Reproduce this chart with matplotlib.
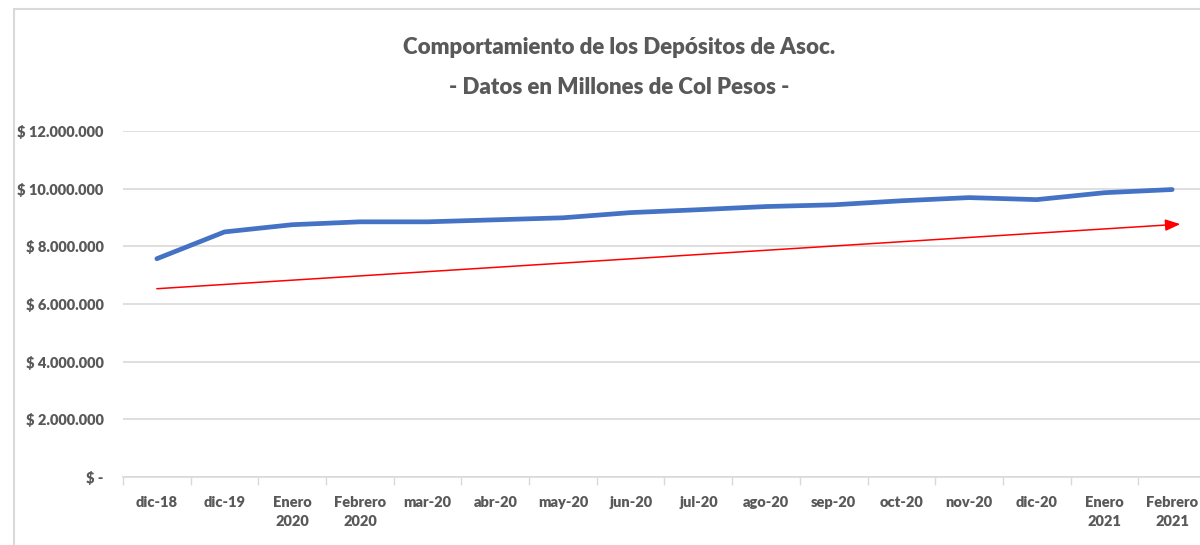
import matplotlib.pyplot as plt
from matplotlib.patches import Rectangle
from matplotlib.ticker import FuncFormatter

periodos = ['dic-18', 'dic-19', 'Enero\n2020', 'Febrero\n2020', 'mar-20', 'abr-20', 'may-20',
            'jun-20', 'jul-20', 'ago-20', 'sep-20', 'oct-20', 'nov-20', 'dic-20',
            'Enero\n2021', 'Febrero\n2021']
depositos = [7570000, 8500000, 8750000, 8850000, 8850000, 8920000, 8990000, 9170000,
             9270000, 9380000, 9440000, 9580000, 9690000, 9620000, 9860000, 9970000]
tendencia = [6530000, 8770000]  # inicio y fin de la flecha roja
y_ticks = [0, 2000000, 4000000, 6000000, 8000000, 10000000, 12000000]

gris = '#595959'
plt.rcParams['font.family'] = ['Lato', 'DejaVu Sans']

def pesos(v, pos):
    if v == 0:
        return '$ -'
    return '$ ' + f'{v:,.0f}'.replace(',', '.')

fig = plt.figure(figsize=(12, 5.45), dpi=100)
fig.patches.append(Rectangle((14 / 1200, -0.1), 1.2, (545 - 9) / 545 + 0.1, transform=fig.transFigure,
                             fill=False, edgecolor='#d9d9d9', linewidth=1.5))

ax = fig.add_axes([123 / 1200, 68 / 545, 1083 / 1200, 346 / 545])
x = list(range(len(periodos)))
ax.plot(x, depositos, color='#4472C4', linewidth=3.4, solid_capstyle='round', zorder=3)
ax.annotate('', xy=(len(periodos) - 1 + 0.12, tendencia[1]), xytext=(0, tendencia[0]),
            arrowprops=dict(arrowstyle='-|>,head_length=0.9,head_width=0.35', color='red',
                            lw=1.1, shrinkA=0, shrinkB=0))

ax.set_xlim(-0.5, len(periodos) - 0.5)
ax.set_ylim(0, 12000000)
ax.set_yticks(y_ticks)
ax.yaxis.set_major_formatter(FuncFormatter(pesos))
ax.set_xticks(x)
ax.set_xticklabels(periodos, linespacing=1.5)
ax.set_xticks([i - 0.5 for i in range(len(periodos) + 1)], minor=True)
ax.tick_params(axis='x', which='major', length=0, pad=14, labelsize=10.5, labelcolor=gris)
ax.tick_params(axis='x', which='minor', length=6, color='#d9d9d9', width=1)
ax.tick_params(axis='y', length=0, pad=14, labelsize=10.5, labelcolor=gris)
for lab in ax.get_xticklabels() + ax.get_yticklabels():
    lab.set_fontweight('heavy')

ax.grid(axis='y', color='#d9d9d9', linewidth=1.2)
ax.set_axisbelow(True)
for s in ['top', 'right', 'left']:
    ax.spines[s].set_visible(False)
ax.spines['bottom'].set_color('#d9d9d9')
ax.spines['bottom'].set_linewidth(1.2)

fig.text(0.516, 1 - 48 / 545, 'Comportamiento de los Depósitos de Asoc.',
         ha='center', va='center', fontsize=16, fontweight='heavy', color=gris)
fig.text(0.516, 1 - 88 / 545, '- Datos en Millones de Col Pesos -',
         ha='center', va='center', fontsize=16, fontweight='heavy', color=gris)

fig.savefig('out.png', dpi=100)
